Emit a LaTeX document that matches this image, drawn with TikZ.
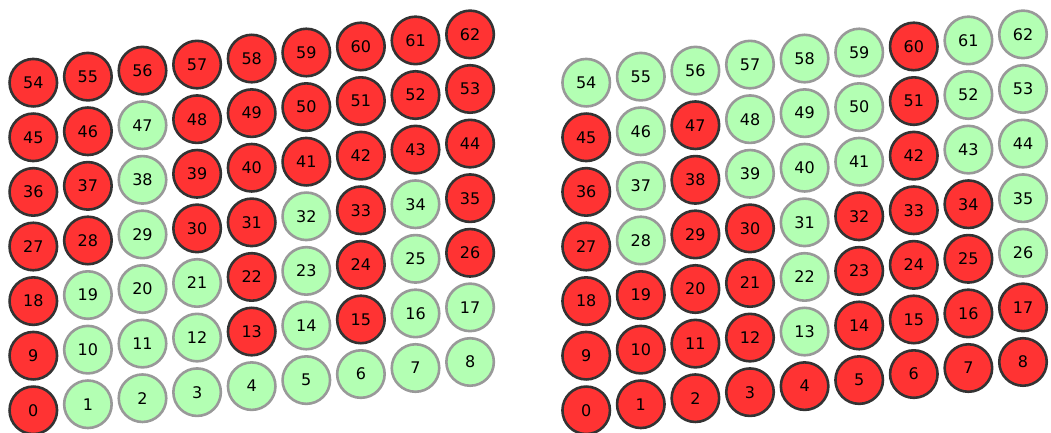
\documentclass[tikz,border=0pt]{standalone}
\usepackage{fontspec}
\setmainfont{DejaVu Sans}
\definecolor{redfill}{RGB}{255,51,51}
\definecolor{redline}{RGB}{51,51,51}
\definecolor{greenfill}{RGB}{179,255,179}
\definecolor{greenline}{RGB}{153,153,153}
\begin{document}
\begin{tikzpicture}[x=1pt,y=-1pt,
  cell/.style={circle, minimum size=47.5pt, inner sep=0pt, line width=2.6pt, font=\fontsize{16}{17}\selectfont},
  R/.style={cell, fill=redfill, draw=redline},
  G/.style={cell, fill=greenfill, draw=greenline}]
\useasboundingbox (0,0) rectangle (1051,433);
% left grid
\def\leftcols{{"R","G","G","G","G","G","G","G","G",
  "R","G","G","G","R","G","R","G","G",
  "R","G","G","G","R","G","R","G","R",
  "R","R","G","R","R","G","R","G","R",
  "R","R","G","R","R","R","R","R","R",
  "R","R","G","R","R","R","R","R","R",
  "R","R","R","R","R","R","R","R","R"}}
\def\rightcols{{"R","R","R","R","R","R","R","R","R",
  "R","R","R","R","G","R","R","R","R",
  "R","R","R","R","G","R","R","R","G",
  "R","G","R","R","G","R","R","R","G",
  "R","G","R","G","G","G","R","G","G",
  "R","G","R","G","G","G","R","G","G",
  "G","G","G","G","G","G","R","G","G"}}
\foreach \r in {0,...,6}{
  \foreach \c in {0,...,8}{
    \pgfmathtruncatemacro{\n}{9*\r+\c}
    \pgfmathsetmacro{\xx}{33.3+54.6*\c}
    \pgfmathsetmacro{\yy}{410.3-6.04*\c-54.6*\r}
    \pgfmathparse{\leftcols[\n]}\let\sl\pgfmathresult
    \pgfmathparse{\rightcols[\n]}\let\sr\pgfmathresult
    \node[\sl] (L\n) at (\xx,\yy) {\n};
    \node[\sr] (Q\n) at (\xx+552.9,\yy) {\n};
  }
}
\end{tikzpicture}
\end{document}
